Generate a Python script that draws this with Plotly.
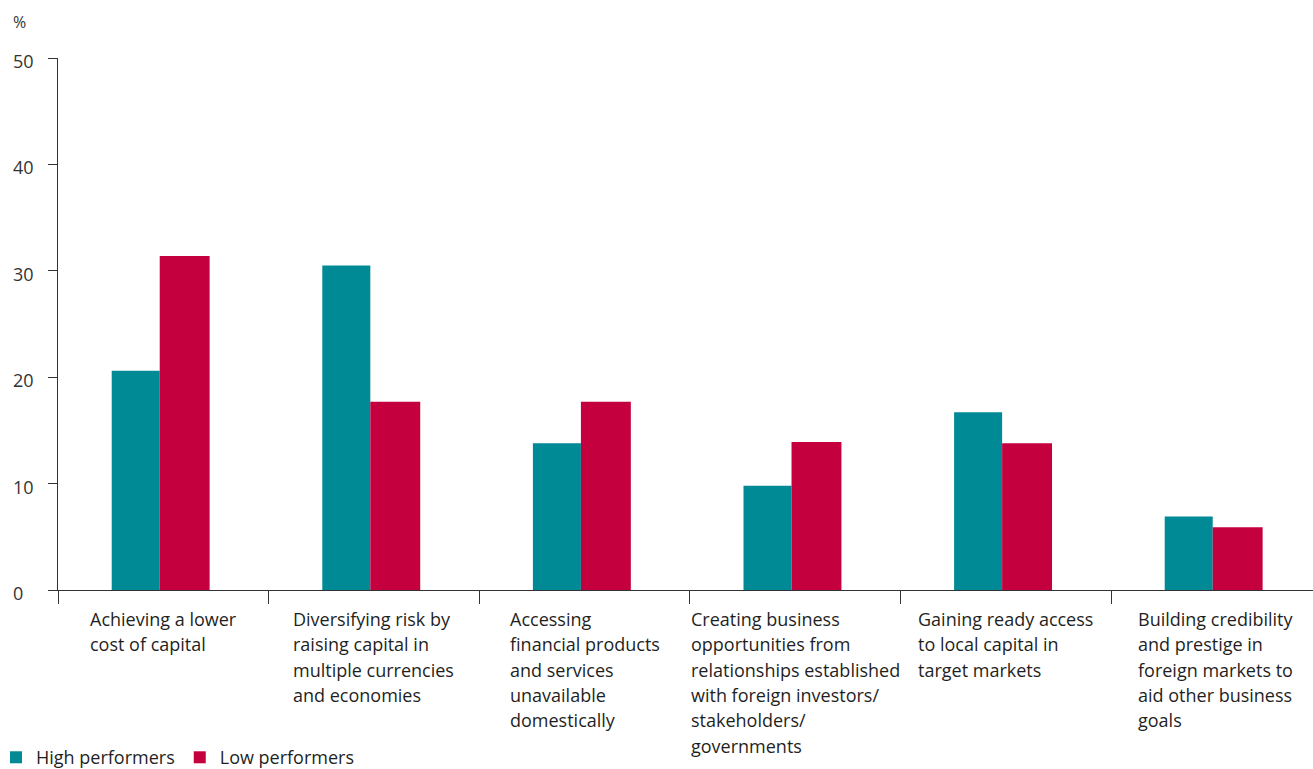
import plotly.graph_objects as go

categories = [
    "Achieving a lower<br>cost of capital",
    "Diversifying risk by<br>raising capital in<br>multiple currencies<br>and economies",
    "Accessing<br>financial products<br>and services<br>unavailable<br>domestically",
    "Creating business<br>opportunities from<br>relationships established<br>with foreign investors/<br>stakeholders/<br>governments",
    "Gaining ready access<br>to local capital in<br>target markets",
    "Building credibility<br>and prestige in<br>foreign markets to<br>aid other business<br>goals",
]
high_performers = [20.6, 30.5, 13.8, 9.8, 16.7, 6.9]
low_performers = [31.4, 17.7, 17.7, 13.9, 13.8, 5.9]
y_ticks = [0, 10, 20, 30, 40, 50]
series_names = ["High performers", "Low performers"]

TEAL = "#008A96"
CRIMSON = "#C4003F"
FONT = "Open Sans, Noto Sans, sans-serif"
TXT = "#1f1f1f"

xs = list(range(len(categories)))

fig = go.Figure()
fig.add_trace(go.Bar(
    x=xs, y=high_performers, name=series_names[0],
    marker=dict(color=TEAL, line=dict(width=0)),
    width=0.228, offset=-0.245,
))
fig.add_trace(go.Bar(
    x=xs, y=low_performers, name=series_names[1],
    marker=dict(color=CRIMSON, line=dict(width=0)),
    width=0.237, offset=-0.017,
))

annotations = []
# category labels (block centred, lines left-aligned)
for i, lab in enumerate(categories):
    lines = lab.split("<br>")
    txt = "<br>".join(f"<span style='font-size:18px'>{ln}</span>" for ln in lines)
    annotations.append(dict(
        x=i, xref="x", y=0, yref="paper", yanchor="top", xanchor="center",
        align="left", showarrow=False, yshift=-15,
        text=txt, font=dict(family=FONT, size=19.5, color=TXT),
    ))
# y tick labels, left aligned at the figure edge
for v in y_ticks:
    annotations.append(dict(
        x=0, xref="paper", xshift=-47, xanchor="left",
        y=v, yref="y", yanchor="middle", yshift=-3,
        text=str(v), showarrow=False,
        font=dict(family=FONT, size=18, color="#333333"),
    ))
annotations.append(dict(
    x=0, xref="paper", xshift=-47, xanchor="left",
    y=1, yref="paper", yanchor="middle", yshift=36,
    text="%", showarrow=False,
    font=dict(family=FONT, size=16, color="#333333"),
))

fig.update_layout(
    width=1313, height=769,
    margin=dict(l=58, r=0, t=58, b=179.4, pad=0, autoexpand=False),
    paper_bgcolor="white", plot_bgcolor="white",
    barmode="overlay",
    showlegend=True,
    legend=dict(
        orientation="h", xref="paper", yref="paper",
        x=-0.0494, y=-0.315, xanchor="left", yanchor="middle",
        font=dict(family=FONT, size=18, color=TXT),
        itemclick=False, itemdoubleclick=False,
        traceorder="normal",
    ),
    annotations=annotations,
    font=dict(family=FONT),
)
fig.update_xaxes(
    range=[-0.5, -0.5 + 1255 / 210.6],
    tickvals=[i - 0.5 for i in xs],
    showticklabels=False,
    ticks="outside", ticklen=13, tickcolor="#333333", tickwidth=1,
    showline=True, linecolor="#333333", linewidth=1,
    showgrid=False, zeroline=False,
)
fig.update_yaxes(
    range=[0, 50],
    tickvals=y_ticks,
    showticklabels=False,
    ticks="outside", ticklen=9, tickcolor="#333333", tickwidth=1,
    showline=True, linecolor="#333333", linewidth=1,
    showgrid=False, zeroline=False,
)

fig.write_html(
    "out.html",
    config={"displayModeBar": False},
    post_script="document.body.style.margin='0px';document.body.style.overflow='hidden';",
)
